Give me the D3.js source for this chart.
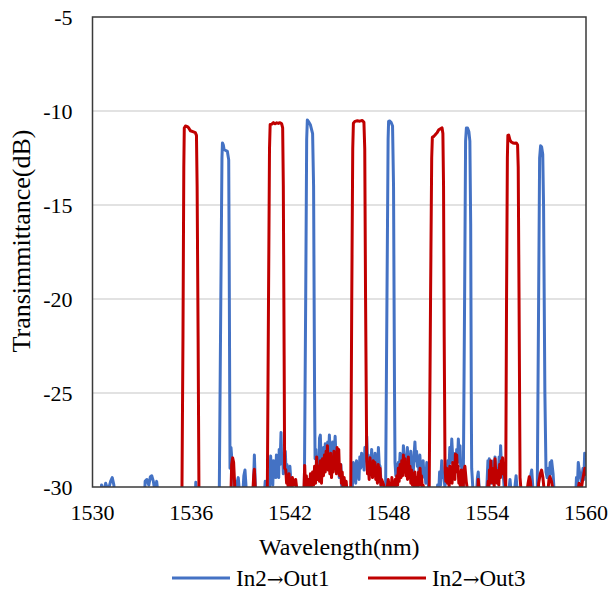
<!DOCTYPE html>
<html>
<head>
<meta charset="utf-8">
<script src="https://cdn.jsdelivr.net/npm/d3@7"></script>
<style>
  body { margin: 0; background: #fff; }
</style>
</head>
<body>
<svg id="chart" width="612" height="595"></svg>
<script>
const FONT = 'Liberation Serif';
const ARROW_FONT = 'DejaVu Serif';

// axis ticks
const xTicks = [1530, 1536, 1542, 1548, 1554, 1560];
const yTicks = [-30, -25, -20, -15, -10, -5];

// series names
const seriesNames = ['In2\u2192Out1', 'In2\u2192Out3'];

// In2 -> Out1 : [wavelength nm, dB] (values under -30 are hidden)
const out1 = [
  [1530.0, -32], [1530.45, -32], [1530.55, -29.9], [1530.65, -30.4], [1530.8, -29.8], [1530.95, -30.2],
  [1531.1, -29.7], [1531.2, -29.5], [1531.3, -29.9], [1531.4, -32],
  [1533.1, -32], [1533.2, -29.7], [1533.3, -29.6], [1533.42, -29.9], [1533.52, -29.45], [1533.6, -29.4],
  [1533.7, -29.7], [1533.8, -30.3], [1533.9, -29.7], [1534.0, -30.5], [1534.1, -32],
  [1536.2, -32], [1536.28, -29.75], [1536.36, -32],
  [1537.6, -32], [1537.71, -30], [1537.8, -20], [1537.87, -12.5], [1537.9, -11.7], [1537.95, -11.8],
  [1538.0, -12.05], [1538.1, -12.1], [1538.2, -12.15], [1538.28, -12.6], [1538.31, -18], [1538.36, -29],
  [1538.42, -27.9], [1538.5, -28.9], [1538.58, -29.6], [1538.65, -30.5], [1538.78, -29.8], [1538.86, -29.5],
  [1538.95, -30.4], [1539.1, -31], [1539.2, -29.4], [1539.27, -29.1], [1539.35, -30.2], [1539.5, -32],
  [1539.75, -31], [1539.84, -28.3], [1539.92, -30.5], [1540.2, -32], [1540.45, -30.3], [1540.5, -29.7],
  [1540.6, -31], [1540.75, -30.5], [1540.83, -28.35], [1540.88, -29.5], [1540.92, -29.2], [1540.96, -29.9],
  [1541.0, -28.6], [1541.05, -29.4], [1541.09, -28.7], [1541.14, -29.5], [1541.18, -28.3], [1541.23, -29.2],
  [1541.28, -28.9], [1541.32, -29.5], [1541.35, -28.0], [1541.4, -28.8], [1541.46, -27.1], [1541.5, -28.6],
  [1541.55, -28.3], [1541.6, -29.3], [1541.65, -28.9], [1541.72, -28.1], [1541.77, -29.2], [1541.82, -28.8],
  [1541.87, -29.7], [1541.92, -29.3], [1542.0, -28.9], [1542.1, -30.2], [1542.2, -31],
  [1542.4, -32], [1542.7, -31],
  [1542.88, -30], [1542.96, -20], [1543.02, -11.5], [1543.06, -10.48], [1543.12, -10.55], [1543.25, -10.75],
  [1543.38, -11.2], [1543.44, -14], [1543.5, -25], [1543.53, -28.5],
  [1543.58, -28.0], [1543.63, -29.2], [1543.7, -28.6], [1543.75, -29.4], [1543.8, -27.4], [1543.85, -27.24],
  [1543.9, -28.6], [1543.95, -28.2], [1544.0, -29.0], [1544.05, -27.9], [1544.1, -28.5], [1544.15, -27.7],
  [1544.2, -28.8], [1544.25, -28.4], [1544.3, -27.6], [1544.35, -28.3], [1544.4, -27.24], [1544.45, -28.4],
  [1544.5, -28.0], [1544.55, -28.9], [1544.6, -27.6], [1544.65, -28.5], [1544.7, -28.0], [1544.75, -27.3],
  [1544.8, -28.3], [1544.85, -28.1], [1544.9, -29.0], [1544.95, -28.8], [1545.0, -29.5], [1545.05, -29.2],
  [1545.1, -28.8], [1545.15, -29.9], [1545.25, -30.5], [1545.4, -32],
  [1545.75, -31], [1545.82, -29.5], [1545.86, -28.7], [1545.9, -29.6], [1545.95, -29.1], [1546.0, -29.8],
  [1546.05, -28.6], [1546.1, -29.3], [1546.15, -29.0], [1546.2, -29.6], [1546.25, -28.4], [1546.3, -29.0],
  [1546.36, -28.2], [1546.41, -28.9], [1546.46, -28.5], [1546.51, -29.1], [1546.56, -27.9], [1546.62, -28.6],
  [1546.67, -27.3], [1546.72, -28.7], [1546.76, -28.3], [1546.81, -29.0], [1546.86, -28.6], [1546.91, -29.2],
  [1546.97, -28.0], [1547.02, -28.9], [1547.07, -28.5], [1547.12, -29.1], [1547.18, -28.2], [1547.23, -28.9],
  [1547.28, -28.6], [1547.33, -29.3], [1547.38, -27.9], [1547.43, -28.8], [1547.48, -28.9], [1547.55, -29.9],
  [1547.65, -31], [1547.75, -30.5],
  [1547.82, -30], [1547.9, -20], [1547.97, -11.5], [1548.0, -10.55], [1548.06, -10.53], [1548.15, -10.6],
  [1548.24, -10.8], [1548.3, -14], [1548.36, -25], [1548.39, -28.7],
  [1548.44, -29.4], [1548.48, -28.8], [1548.53, -29.5], [1548.59, -28.7], [1548.64, -29.3], [1548.7, -28.2],
  [1548.75, -29.0], [1548.8, -28.5], [1548.85, -29.1], [1548.9, -27.8], [1548.95, -28.7], [1549.0, -28.3],
  [1549.05, -29.0], [1549.1, -28.4], [1549.14, -27.9], [1549.2, -28.8], [1549.25, -28.4], [1549.3, -29.0],
  [1549.35, -28.1], [1549.4, -28.9], [1549.45, -28.6], [1549.5, -29.2], [1549.55, -28.3], [1549.6, -27.6],
  [1549.65, -28.6], [1549.7, -28.1], [1549.75, -28.9], [1549.8, -28.5], [1549.85, -29.3], [1549.9, -28.3],
  [1549.95, -29.1], [1550.0, -28.8], [1550.05, -29.5], [1550.1, -28.6], [1550.15, -29.4], [1550.2, -29.1],
  [1550.26, -29.8], [1550.32, -28.7], [1550.42, -29.9], [1550.55, -31],
  [1550.9, -31], [1550.98, -29.9], [1551.05, -30.3], [1551.1, -29.2], [1551.16, -29.9], [1551.23, -28.6],
  [1551.3, -29.5], [1551.35, -29.3], [1551.42, -30.0], [1551.48, -29.6], [1551.54, -29.2], [1551.6, -28.6],
  [1551.66, -29.3], [1551.72, -27.9], [1551.78, -28.7], [1551.84, -27.45], [1551.9, -28.5], [1551.95, -28.2],
  [1552.0, -29.0], [1552.04, -28.6], [1552.09, -29.2], [1552.14, -28.0], [1552.19, -28.7], [1552.24, -27.45],
  [1552.29, -28.4], [1552.34, -27.8], [1552.38, -28.9], [1552.42, -28.7], [1552.5, -29.6],
  [1552.54, -30], [1552.62, -20], [1552.68, -11.6], [1552.73, -10.9], [1552.8, -10.9], [1552.88, -11.1],
  [1552.94, -11.6], [1552.99, -16], [1553.03, -26], [1553.05, -29],
  [1553.15, -30.5], [1553.3, -31], [1553.4, -29.5], [1553.45, -29.2], [1553.52, -30.3], [1553.7, -32],
  [1553.95, -30.5], [1554.04, -28.6], [1554.08, -29.4], [1554.12, -28.5], [1554.16, -29.3], [1554.2, -28.9],
  [1554.25, -29.8], [1554.3, -29.4], [1554.34, -29.0], [1554.38, -28.6], [1554.42, -29.3], [1554.47, -28.4],
  [1554.52, -29.3], [1554.56, -29.0], [1554.6, -29.6], [1554.65, -29.2], [1554.69, -28.9], [1554.72, -28.4],
  [1554.77, -29.0], [1554.81, -27.8], [1554.86, -28.9], [1554.9, -28.6], [1555.0, -29.7], [1555.1, -31],
  [1555.3, -30.3], [1555.38, -29.6], [1555.46, -30.4], [1555.6, -31],
  [1555.68, -30.0], [1555.75, -29.4], [1555.82, -30.3], [1555.95, -32], [1556.55, -31], [1556.62, -29.5],
  [1556.7, -29.1], [1556.78, -30.2], [1556.9, -31],
  [1557.04, -30], [1557.12, -20], [1557.18, -12.5], [1557.24, -11.85], [1557.3, -11.9], [1557.37, -12.3],
  [1557.42, -15], [1557.5, -25], [1557.57, -29.2],
  [1557.64, -29.5], [1557.72, -29.0], [1557.77, -29.6], [1557.82, -28.7], [1557.87, -29.3], [1557.91, -28.6],
  [1558.0, -29.3], [1558.08, -30.5], [1558.2, -32], [1559.3, -32], [1559.42, -29.5], [1559.48, -29.9],
  [1559.53, -28.7], [1559.62, -29.3], [1559.72, -29.7], [1559.82, -29.0], [1559.87, -29.6], [1559.92, -28.2],
  [1560.0, -28.4]
];

// In2 -> Out3
const out3 = [
  [1530.0, -32], [1535.3, -32],
  [1535.44, -30], [1535.5, -22], [1535.55, -13], [1535.58, -10.9], [1535.65, -10.8], [1535.75, -10.82],
  [1535.85, -10.9], [1535.95, -11.05], [1536.1, -11.1], [1536.25, -11.15], [1536.32, -11.3], [1536.36, -14],
  [1536.42, -22], [1536.47, -30], [1536.55, -32],
  [1538.4, -31], [1538.46, -28.8], [1538.52, -28.45], [1538.58, -28.7], [1538.65, -30.0], [1538.75, -31.5],
  [1539.7, -31], [1539.8, -29.4], [1539.84, -29.05], [1539.9, -30.2], [1540.0, -32], [1540.5, -32],
  [1540.63, -30], [1540.7, -20], [1540.76, -12], [1540.8, -10.72], [1540.9, -10.7], [1541.0, -10.62],
  [1541.1, -10.68], [1541.2, -10.63], [1541.3, -10.66], [1541.4, -10.62], [1541.5, -10.68], [1541.56, -10.9],
  [1541.6, -14], [1541.65, -23], [1541.68, -29],
  [1541.75, -29.1], [1541.8, -29.8], [1541.85, -29.5], [1541.9, -30.1], [1541.95, -29.3], [1542.0, -30.0],
  [1542.05, -29.7], [1542.1, -30.2], [1542.15, -29.5], [1542.25, -29.9], [1542.35, -29.6], [1542.45, -30.3],
  [1542.6, -31.5],
  [1542.85, -30.2], [1542.9, -28.85], [1542.95, -30.1], [1543.0, -29.4], [1543.05, -30.2], [1543.12, -29.6],
  [1543.18, -30.3], [1543.25, -29.3], [1543.3, -30.0], [1543.38, -29.2], [1543.44, -29.9], [1543.5, -28.9],
  [1543.56, -29.8], [1543.63, -28.4], [1543.68, -29.6], [1543.74, -28.9], [1543.8, -29.7], [1543.86, -28.6],
  [1543.92, -29.8], [1543.98, -28.5], [1544.04, -29.4], [1544.1, -28.3], [1544.15, -29.2], [1544.2, -28.1],
  [1544.24, -29.0], [1544.28, -27.8], [1544.33, -29.1], [1544.38, -28.4], [1544.43, -29.3], [1544.48, -28.2],
  [1544.53, -29.5], [1544.58, -28.6], [1544.63, -29.2], [1544.68, -28.1], [1544.73, -29.0], [1544.78, -28.3],
  [1544.83, -29.3], [1544.87, -27.9], [1544.92, -28.9], [1544.97, -28.0], [1545.02, -29.4], [1545.08, -28.8],
  [1545.13, -29.8], [1545.18, -29.2], [1545.24, -30.2], [1545.3, -29.5], [1545.36, -30.4], [1545.42, -29.7],
  [1545.5, -30.5], [1545.62, -31],
  [1545.7, -30], [1545.76, -20], [1545.82, -12], [1545.86, -10.65], [1545.95, -10.55], [1546.1, -10.52],
  [1546.25, -10.54], [1546.4, -10.5], [1546.5, -10.6], [1546.55, -12], [1546.6, -20], [1546.67, -28.5],
  [1546.72, -29.3], [1546.77, -28.9], [1546.82, -29.6], [1546.87, -28.45], [1546.92, -29.2], [1546.97, -28.8],
  [1547.02, -29.5], [1547.07, -28.6], [1547.12, -29.4], [1547.17, -28.7], [1547.22, -29.6], [1547.27, -29.0],
  [1547.32, -29.8], [1547.37, -28.8], [1547.42, -29.7], [1547.48, -29.0], [1547.53, -29.9], [1547.58, -29.6],
  [1547.7, -29.9], [1547.85, -30.5],
  [1547.98, -29.6], [1548.05, -30.2], [1548.1, -29.8], [1548.15, -30.3], [1548.2, -29.5], [1548.25, -30.2],
  [1548.3, -29.9], [1548.35, -30.4], [1548.4, -29.6], [1548.45, -30.1], [1548.5, -29.4], [1548.55, -29.9],
  [1548.59, -29.0], [1548.64, -29.7], [1548.7, -28.8], [1548.75, -29.5], [1548.8, -28.6], [1548.85, -29.4],
  [1548.9, -28.3], [1548.95, -29.2], [1549.0, -28.5], [1549.05, -29.4], [1549.1, -28.8], [1549.15, -29.6],
  [1549.2, -28.4], [1549.25, -29.3], [1549.3, -28.9], [1549.35, -29.8], [1549.4, -29.1], [1549.45, -29.9],
  [1549.5, -29.3], [1549.55, -30.1], [1549.6, -29.2], [1549.66, -30.0], [1549.72, -29.5], [1549.77, -30.2],
  [1549.82, -29.2], [1549.87, -29.9], [1549.91, -29.0], [1549.96, -29.8], [1550.0, -29.4], [1550.05, -30.1],
  [1550.1, -29.9], [1550.2, -30.5], [1550.35, -31],
  [1550.47, -30], [1550.55, -20], [1550.62, -12.5], [1550.66, -11.4], [1550.75, -11.35], [1550.85, -11.25],
  [1550.95, -11.15], [1551.05, -11.0], [1551.15, -10.95], [1551.25, -10.9], [1551.3, -11.2], [1551.34, -14],
  [1551.38, -22], [1551.43, -29],
  [1551.48, -29.7], [1551.53, -29.0], [1551.58, -29.8], [1551.63, -29.3], [1551.68, -30.0], [1551.72, -28.9],
  [1551.77, -29.6], [1551.82, -29.1], [1551.86, -29.8], [1551.9, -28.7], [1551.95, -29.5], [1552.0, -28.9],
  [1552.03, -29.6], [1552.06, -28.25], [1552.1, -29.0], [1552.14, -28.3], [1552.18, -29.2], [1552.22, -28.9],
  [1552.27, -29.8], [1552.32, -29.5], [1552.37, -30.1], [1552.42, -29.1], [1552.47, -29.9], [1552.5, -29.4],
  [1552.54, -30.0], [1552.58, -29.1], [1552.64, -28.9], [1552.72, -29.7], [1552.85, -30.5],
  [1553.0, -31], [1553.4, -31], [1553.45, -29.6], [1553.52, -30.4], [1553.7, -32],
  [1553.95, -31], [1554.05, -29.7], [1554.09, -30.3], [1554.13, -29.1], [1554.17, -29.8], [1554.21, -28.6],
  [1554.26, -29.5], [1554.3, -29.0], [1554.34, -29.8], [1554.38, -29.4], [1554.42, -30.0], [1554.47, -28.5],
  [1554.52, -29.4], [1554.56, -29.1], [1554.6, -29.8], [1554.65, -29.3], [1554.7, -29.9], [1554.75, -28.8],
  [1554.8, -29.5], [1554.85, -28.6], [1554.89, -29.3], [1554.93, -28.45], [1554.97, -29.2], [1555.0, -28.9],
  [1555.06, -29.5],
  [1555.12, -30], [1555.17, -20], [1555.22, -12.5], [1555.25, -11.3], [1555.3, -11.28], [1555.38, -11.55],
  [1555.46, -11.65], [1555.56, -11.7], [1555.66, -11.72], [1555.76, -11.7], [1555.84, -11.8], [1555.88, -13],
  [1555.93, -20], [1555.99, -29.5],
  [1556.08, -30.5], [1556.2, -31.5], [1556.38, -30.5], [1556.48, -29.8], [1556.55, -29.45], [1556.62, -29.7],
  [1556.72, -30.5], [1556.85, -31.5], [1557.05, -31], [1557.12, -29.8], [1557.22, -29.3], [1557.3, -29.1],
  [1557.38, -29.5], [1557.46, -30.2], [1557.6, -31], [1557.75, -29.6], [1557.81, -29.45], [1557.9, -29.7],
  [1558.0, -30.2], [1558.1, -31], [1558.3, -32], [1559.4, -32], [1559.5, -30.3], [1559.58, -29.8],
  [1559.68, -30.3], [1559.8, -29.6], [1559.93, -29.0], [1560.0, -29.4]
];

const colors = ['#4472C4', '#C00000'];

const svg = d3.select('#chart');
const margin = { left: 92.5, right: 26, top: 17, bottom: 108 };
const W = 612, H = 595;
const plotW = W - margin.left - margin.right;
const plotH = H - margin.top - margin.bottom;

const x = d3.scaleLinear().domain([1530, 1560]).range([margin.left, margin.left + plotW]);
const y = d3.scaleLinear().domain([-30, -5]).range([margin.top + plotH, margin.top]);

// clip so that hidden floor values stay under the axis
svg.append('defs').append('clipPath').attr('id', 'plotClip')
  .append('rect')
  .attr('x', margin.left).attr('y', margin.top)
  .attr('width', plotW).attr('height', plotH);

// gridlines
svg.append('g')
  .selectAll('line')
  .data(yTicks.filter(t => t > -30 && t < -5))
  .join('line')
  .attr('x1', margin.left).attr('x2', margin.left + plotW)
  .attr('y1', d => y(d)).attr('y2', d => y(d))
  .attr('stroke', '#d9d9d9').attr('stroke-width', 1.3);

// series
const line = d3.line().x(d => x(d[0])).y(d => y(d[1]));
const plotG = svg.append('g').attr('clip-path', 'url(#plotClip)');
[out1, out3].forEach((s, i) => {
  plotG.append('path')
    .datum(s)
    .attr('d', line)
    .attr('fill', 'none')
    .attr('stroke', colors[i])
    .attr('stroke-width', 3)
    .attr('stroke-linejoin', 'round');
});

// frame
svg.append('rect')
  .attr('x', margin.left).attr('y', margin.top)
  .attr('width', plotW).attr('height', plotH)
  .attr('fill', 'none').attr('stroke', '#3a3a3a').attr('stroke-width', 1.5);

// tick labels (no tick marks), placed with the scales
svg.append('g')
  .selectAll('text')
  .data(xTicks)
  .join('text')
  .attr('x', d => x(d))
  .attr('y', margin.top + plotH + 33)
  .attr('text-anchor', 'middle')
  .attr('font-size', 22)
  .style('font-family', '"Times New Roman"')
  .text(d => String(d));

svg.append('g')
  .selectAll('text')
  .data(yTicks)
  .join('text')
  .attr('x', margin.left - 20)
  .attr('y', d => y(d) + 7.5)
  .attr('text-anchor', 'end')
  .attr('font-size', 22)
  .style('font-family', '"Tinos"')
  .text(d => String(d));

// axis titles
svg.append('text')
  .attr('x', margin.left + plotW / 2).attr('y', 555)
  .attr('text-anchor', 'middle').attr('font-size', 24)
  .attr('font-family', FONT)
  .text('Wavelength(nm)');

svg.append('text')
  .attr('transform', 'translate(30,241) rotate(-90)')
  .attr('text-anchor', 'middle').attr('font-size', 26)
  .attr('font-family', FONT)
  .text('Transimmittance(dB)');

// legend
const legendX = [172, 368];
const legend = svg.append('g');
seriesNames.forEach((name, i) => {
  const parts = name.split('\u2192');
  legend.append('line')
    .attr('x1', legendX[i]).attr('x2', legendX[i] + 58)
    .attr('y1', 578).attr('y2', 578)
    .attr('stroke', colors[i]).attr('stroke-width', 3);
  const t = legend.append('text')
    .attr('x', legendX[i] + 64).attr('y', 586)
    .attr('font-size', 23)
    .attr('font-family', FONT);
  t.append('tspan').text(parts[0]);
  t.append('tspan').attr('font-family', ARROW_FONT).attr('font-size', 20).text('\u2192');
  t.append('tspan').text(parts[1]);
});
</script>
</body>
</html>
